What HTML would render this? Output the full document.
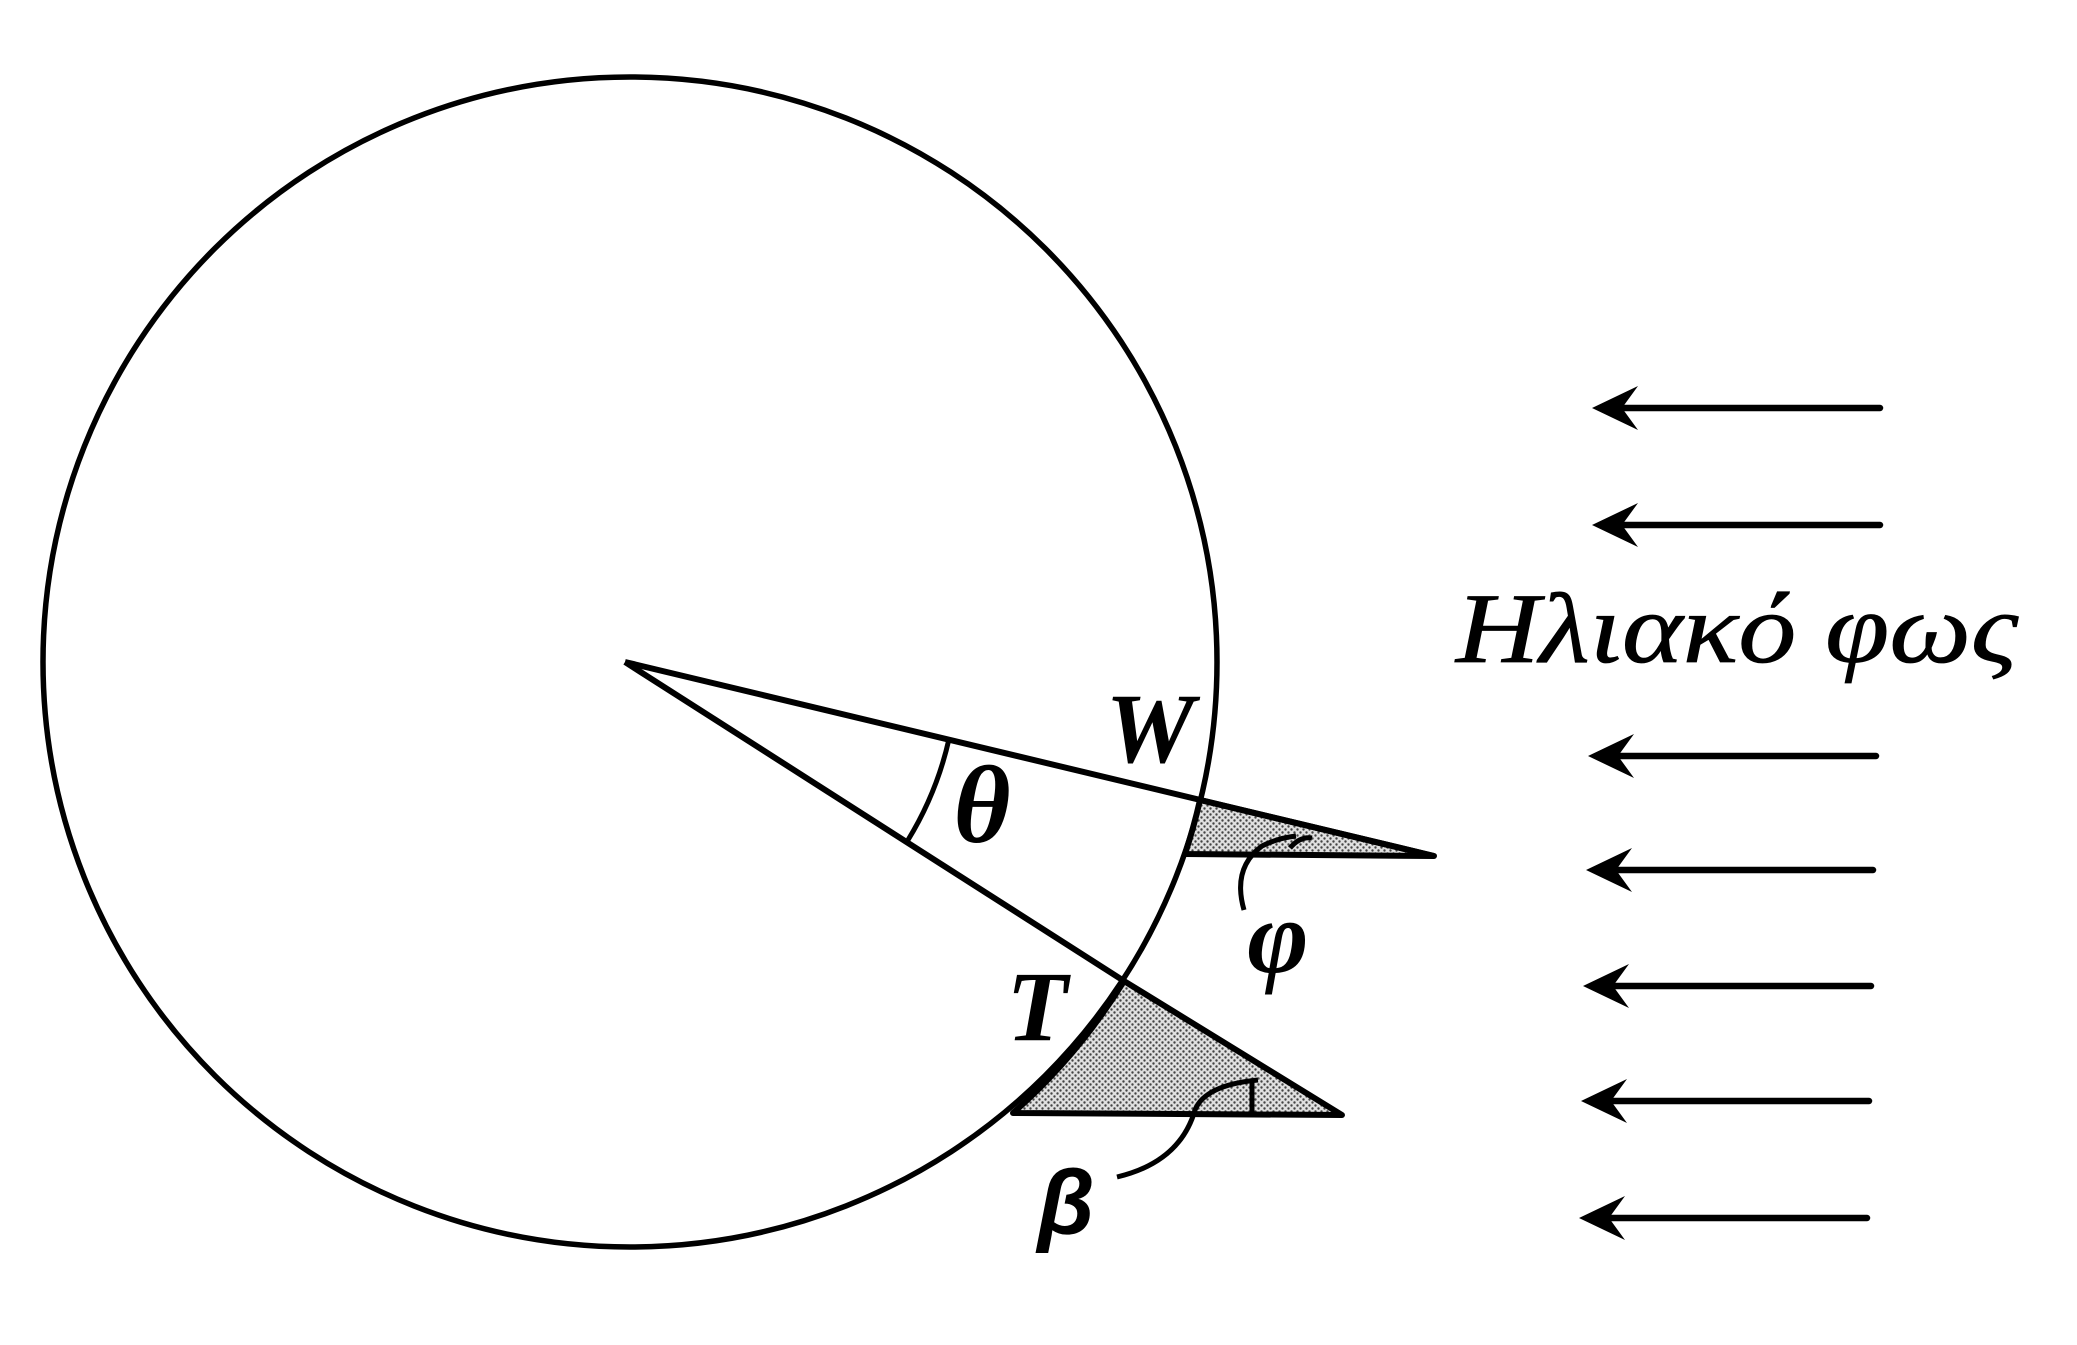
<!DOCTYPE html>
<html><head><meta charset="utf-8"><style>html,body{margin:0;padding:0;background:#fff}svg{display:block}</style></head>
<body>
<svg width="2077" height="1345" viewBox="0 0 2077 1345" xmlns="http://www.w3.org/2000/svg">
<defs>
<pattern id="dots" width="6" height="6" patternUnits="userSpaceOnUse">
<rect width="6" height="6" fill="#e0e0e0"/>
<circle cx="1.5" cy="1.5" r="1.2" fill="#444"/>
<circle cx="4.5" cy="4.5" r="1.2" fill="#444"/>
</pattern>
</defs>
<ellipse cx="630" cy="662" rx="587" ry="585" fill="none" stroke="#000" stroke-width="5.5"/>
<path d="M1200,800 A587,585 0 0 1 1185,854 L1434,856 Z" fill="url(#dots)" stroke="#000" stroke-width="6" stroke-linejoin="round"/>
<path d="M1124,981 A587,585 0 0 1 1013,1113 L1342,1115 Z" fill="url(#dots)" stroke="#000" stroke-width="6" stroke-linejoin="round"/>
<line x1="625" y1="662" x2="1434" y2="856" stroke="#000" stroke-width="6"/>
<line x1="625" y1="662" x2="1124" y2="981" stroke="#000" stroke-width="6"/>
<path d="M949,739 A334,334 0 0 1 908,840" fill="none" stroke="#000" stroke-width="5"/>
<path d="M1290,848 Q1300,836 1312,838" fill="none" stroke="#000" stroke-width="5"/>
<path d="M1252,1082 L1252,1112" fill="none" stroke="#000" stroke-width="5"/>
<path d="M1244,910 Q1232,868 1262,846 Q1278,838 1296,836" fill="none" stroke="#000" stroke-width="5"/>
<path d="M1117,1177 Q1180,1162 1195,1110 Q1205,1085 1258,1080" fill="none" stroke="#000" stroke-width="5"/>
<g font-family="Liberation Serif, DejaVu Serif, serif" font-style="italic" font-weight="bold" fill="#000">
<text x="1150" y="762" font-size="100" text-anchor="middle">W</text>
<text x="1037" y="1040" font-size="100" text-anchor="middle">T</text>
<text x="982" y="842" font-size="110" text-anchor="middle">θ</text>
<text x="1278" y="972" font-size="105" text-anchor="middle">φ</text>
</g>
<text x="1066" y="1234" font-size="92" font-family="Liberation Sans, DejaVu Sans, sans-serif" font-style="italic" font-weight="bold" text-anchor="middle">β</text>
<text x="1456" y="662" font-size="100" font-family="Liberation Serif, DejaVu Serif, serif" font-style="italic" stroke="#000" stroke-width="0.8" textLength="562" lengthAdjust="spacingAndGlyphs">Ηλιακό φως</text>
<g stroke="#000" stroke-width="6.5" fill="#000" stroke-linecap="round">
<g transform="translate(1592,408)"><line x1="20" y1="0" x2="288" y2="0"/><path d="M0,0 L46,-22 L30,0 L46,22 Z" stroke="none"/></g>
<g transform="translate(1592,525)"><line x1="20" y1="0" x2="288" y2="0"/><path d="M0,0 L46,-22 L30,0 L46,22 Z" stroke="none"/></g>
<g transform="translate(1588,756)"><line x1="20" y1="0" x2="288" y2="0"/><path d="M0,0 L46,-22 L30,0 L46,22 Z" stroke="none"/></g>
<g transform="translate(1586,870)"><line x1="20" y1="0" x2="287" y2="0"/><path d="M0,0 L46,-22 L30,0 L46,22 Z" stroke="none"/></g>
<g transform="translate(1583,986)"><line x1="20" y1="0" x2="288" y2="0"/><path d="M0,0 L46,-22 L30,0 L46,22 Z" stroke="none"/></g>
<g transform="translate(1581,1101)"><line x1="20" y1="0" x2="288" y2="0"/><path d="M0,0 L46,-22 L30,0 L46,22 Z" stroke="none"/></g>
<g transform="translate(1579,1218)"><line x1="20" y1="0" x2="288" y2="0"/><path d="M0,0 L46,-22 L30,0 L46,22 Z" stroke="none"/></g>
</g>
</svg>
</body></html>
